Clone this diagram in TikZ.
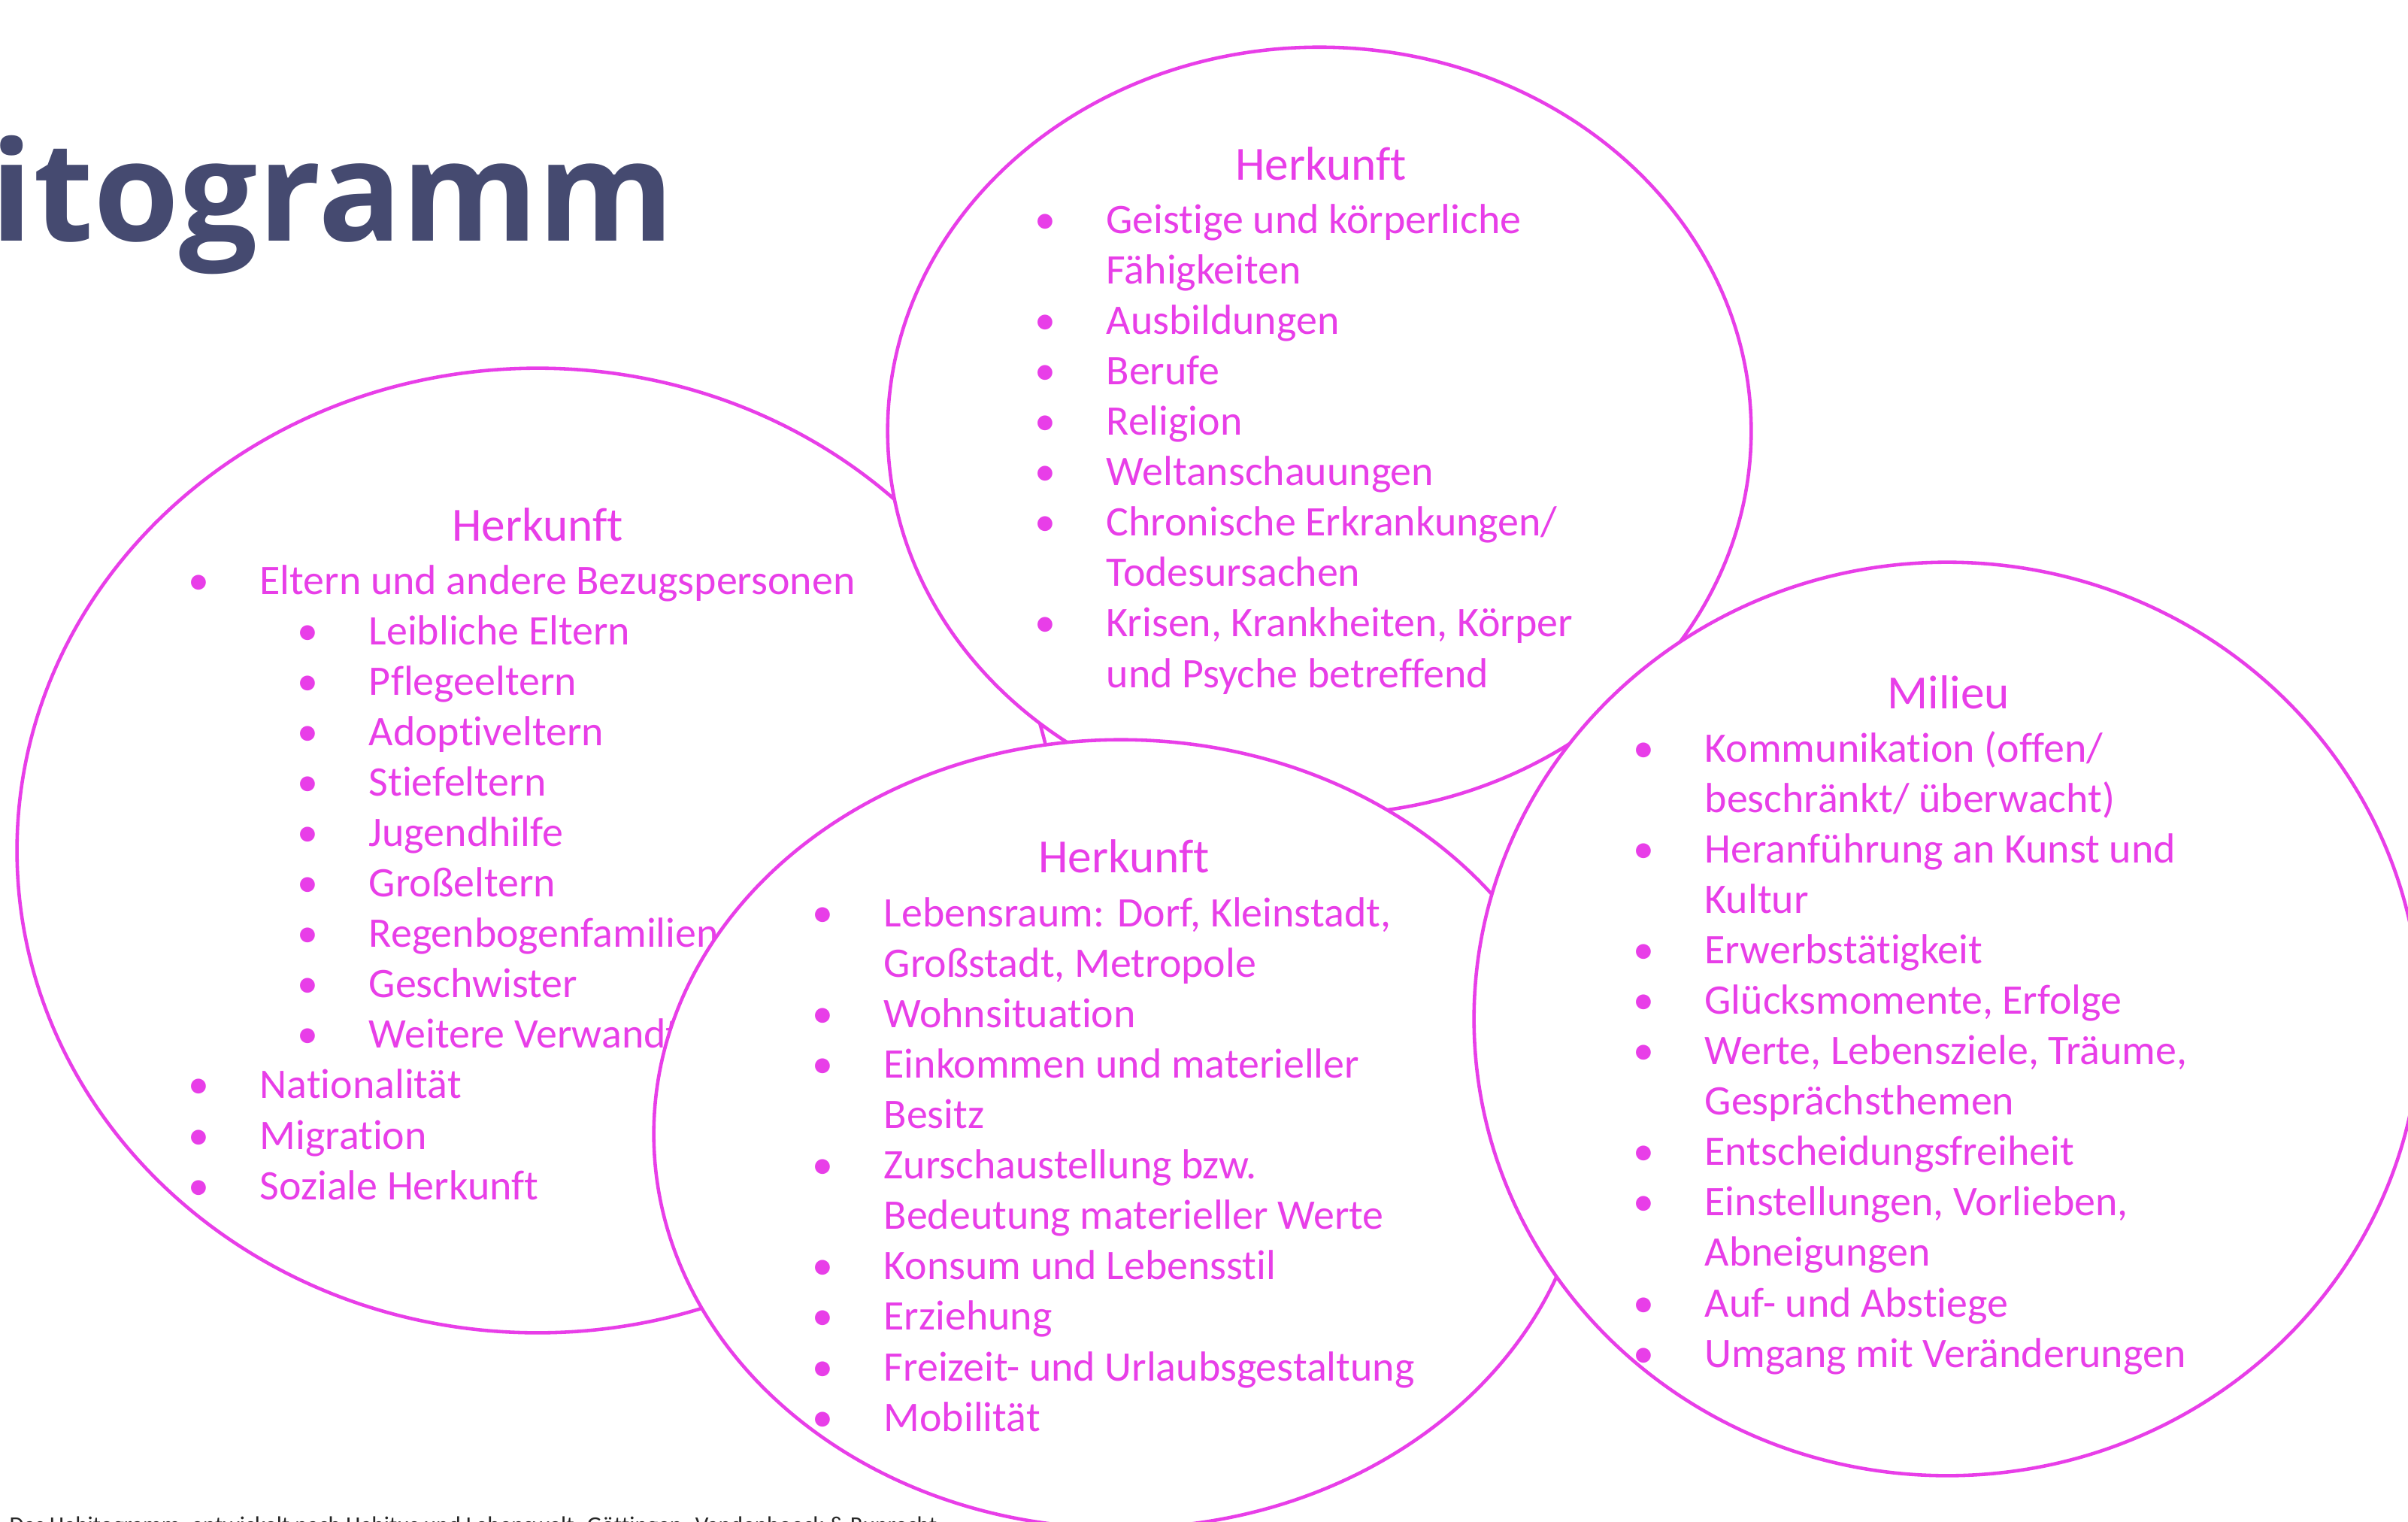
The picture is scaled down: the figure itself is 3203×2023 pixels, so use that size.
\documentclass[tikz,border=0pt]{standalone}
\usepackage{fontspec}
\setmainfont{Carlito}[Ligatures=NoCommon]
\newfontfamily\titelfont{Open Sans}
\usetikzlibrary{shapes.geometric}

\definecolor{lila}{RGB}{232,62,232}
\definecolor{titelblau}{RGB}{69,74,112}

% Aufzaehlungspunkte
\newcommand{\pkt}{\llap{\makebox[1.62cm]{•}}}
\newcommand{\unterpkt}{\hspace*{1.45cm}\pkt}

\tikzset{
  blase/.style={ellipse, draw=lila, line width=1.3pt, fill=white, inner sep=0pt},
  kopf/.style={anchor=base, inner sep=0pt, text=lila, font=\fontsize{18}{22}\selectfont},
  % Anker liegt auf der Grundlinie der letzten Zeile
  liste/.style={anchor=base west, align=left, inner sep=0pt, text=lila,
    font=\fontsize{15.9}{19.06}\selectfont},
}

\begin{document}
\begin{tikzpicture}[x=0.01cm, y=-0.01cm]
\useasboundingbox (0,0) rectangle (3203,2023);
\clip (0,0) rectangle (3203,2023);

\node[anchor=base east, inner sep=0pt, text=titelblau,
  font=\titelfont\bfseries\fontsize{52.5}{56}\selectfont] (titel) at (898,320) {Habitogramm};

% Herkunft: Familie
\node[blase, minimum width=13.84cm, minimum height=12.82cm] (familie) at (715,1131) {};
\node[kopf] (familiekopf) at (715,719) {Herkunft};
\node[liste] (familieliste) at (345,1595) {%
  \pkt Eltern und andere Bezugspersonen\\
  \unterpkt Leibliche Eltern\\
  \unterpkt Pflegeeltern\\
  \unterpkt Adoptiveltern\\
  \unterpkt Stiefeltern\\
  \unterpkt Jugendhilfe\\
  \unterpkt Großeltern\\
  \unterpkt Regenbogenfamilien\\
  \unterpkt Geschwister\\
  \unterpkt Weitere Verwandte\\
  \pkt Nationalität\\
  \pkt Migration\\
  \pkt Soziale Herkunft};

% Herkunft: Faehigkeiten
\node[blase, minimum width=11.48cm, minimum height=10.2cm] (anlagen) at (1755,573) {};
\node[kopf] (anlagenkopf) at (1757,239) {Herkunft};
\node[liste] (anlagenliste) at (1471,914) {%
  \pkt Geistige und körperliche\\
  Fähigkeiten\\
  \pkt Ausbildungen\\
  \pkt Berufe\\
  \pkt Religion\\
  \pkt Weltanschauungen\\
  \pkt Chronische Erkrankungen/\\
  Todesursachen\\
  \pkt Krisen, Krankheiten, Körper\\
  und Psyche betreffend};

% Herkunft: Lebensraum
\node[blase, minimum width=12.42cm, minimum height=10.48cm] (lebensraum) at (1491,1508) {};
\node[kopf] (lebensraumkopf) at (1495,1160) {Herkunft};
\node[liste] (lebensraumliste) at (1175,1903) {%
  \pkt Lebensraum: Dorf, Kleinstadt,\\
  Großstadt, Metropole\\
  \pkt Wohnsituation\\
  \pkt Einkommen und materieller\\
  Besitz\\
  \pkt Zurschaustellung bzw.\\
  Bedeutung materieller Werte\\
  \pkt Konsum und Lebensstil\\
  \pkt Erziehung\\
  \pkt Freizeit- und Urlaubsgestaltung\\
  \pkt Mobilität};

% Milieu
\node[blase, minimum width=12.58cm, minimum height=12.14cm] (milieu) at (2590,1355) {};
\node[kopf] (milieukopf) at (2592,942) {Milieu};
\node[liste] (milieuliste) at (2267,1818) {%
  \pkt Kommunikation (offen/\\
  beschränkt/ überwacht)\\
  \pkt Heranführung an Kunst und\\
  Kultur\\
  \pkt Erwerbstätigkeit\\
  \pkt Glücksmomente, Erfolge\\
  \pkt Werte, Lebensziele, Träume,\\
  Gesprächsthemen\\
  \pkt Entscheidungsfreiheit\\
  \pkt Einstellungen, Vorlieben,\\
  Abneigungen\\
  \pkt Auf- und Abstiege\\
  \pkt Umgang mit Veränderungen};

\node[anchor=base west, inner sep=0pt, text=black!85, font=\fontsize{8.85}{11}\selectfont]
  (quelle) at (12,2038) {Das Habitogramm, entwickelt nach Habitus und Lebenswelt. Göttingen: Vandenhoeck \& Ruprecht};
\end{tikzpicture}
\end{document}
